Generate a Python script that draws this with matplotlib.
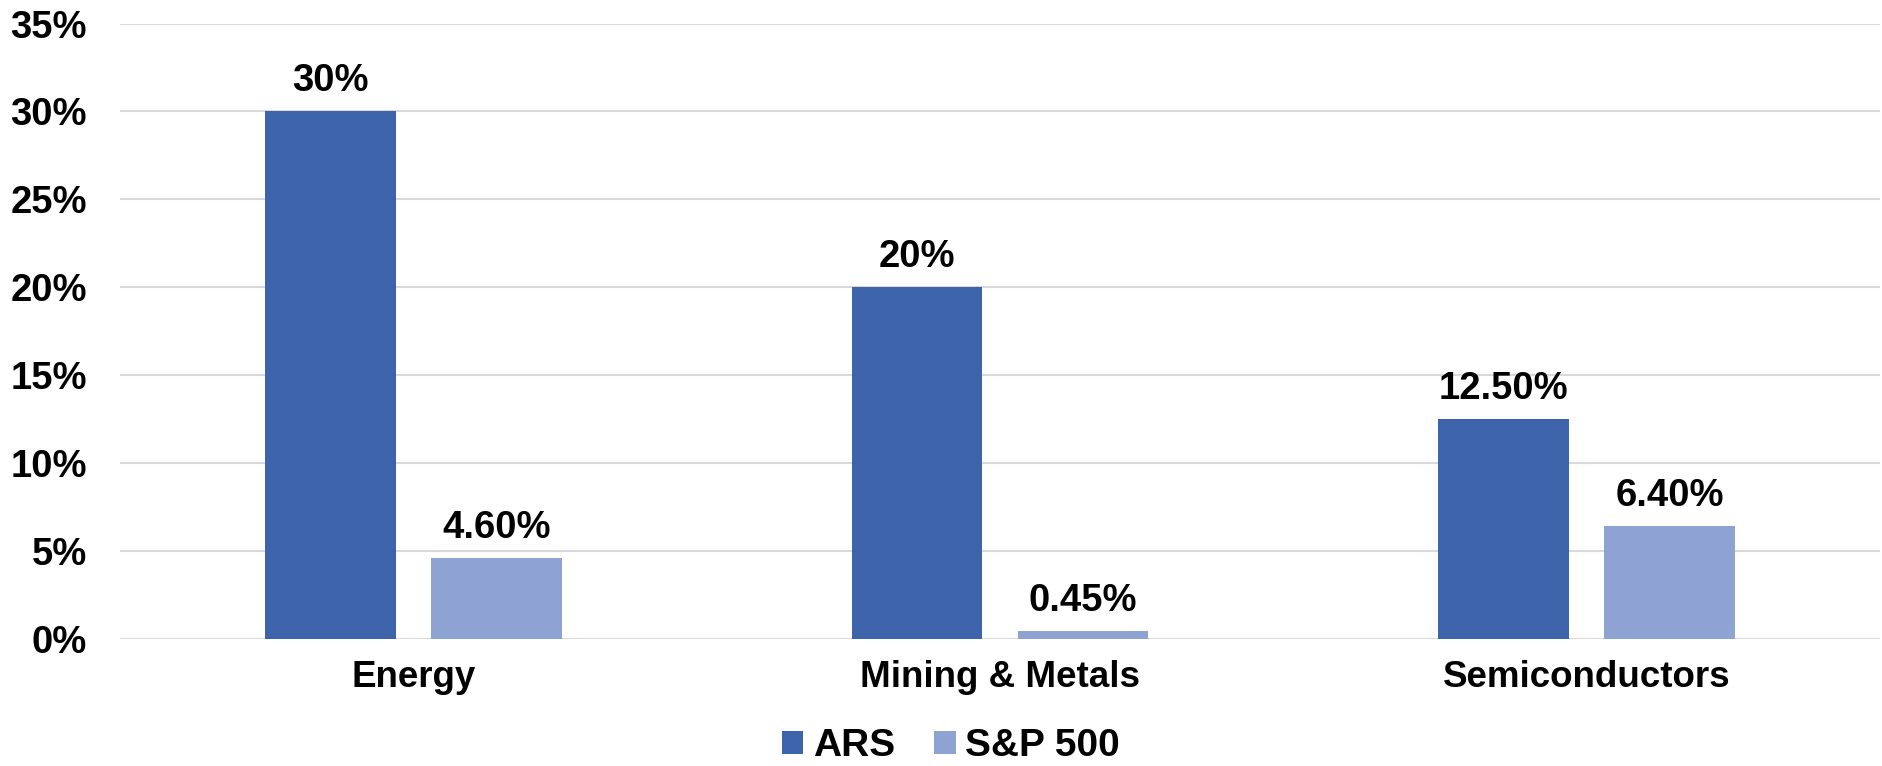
import matplotlib.pyplot as plt
import numpy as np

categories = ['Energy', 'Mining & Metals', 'Semiconductors']
ars = [30, 20, 12.5]
sp500 = [4.6, 0.45, 6.4]
ars_labels = ['30%', '20%', '12.50%']
sp500_labels = ['4.60%', '0.45%', '6.40%']
yticks = [0, 5, 10, 15, 20, 25, 30, 35]

plt.rcParams['font.family'] = ['Liberation Sans', 'DejaVu Sans']
plt.rcParams['font.weight'] = 'bold'

fig = plt.figure(figsize=(18.83, 7.66), dpi=100)
ax = fig.add_axes([120 / 1883, 127 / 766, 1760 / 1883, 615.5 / 766])

x = np.arange(len(categories))
w = 0.223
off = 0.1415
b1 = ax.bar(x - off, ars, w, color='#3D64AB', label='ARS', zorder=3)
b2 = ax.bar(x + off, sp500, w, color='#8FA3D3', label='S&P 500', zorder=3)

for bars, labs in [(b1, ars_labels), (b2, sp500_labels)]:
    for rect, lab in zip(bars, labs):
        ax.annotate(lab, (rect.get_x() + rect.get_width() / 2, rect.get_height()),
                    xytext=(0, 9), textcoords='offset points',
                    ha='center', va='bottom', fontsize=27.5, fontweight='bold')

ax.set_xlim(-0.5, 2.5)
ax.set_ylim(0, 35)
ax.set_yticks(yticks)
ax.set_yticklabels([f'{t}%' for t in yticks], fontsize=27.5, fontweight='bold')
ax.set_xticks(x)
ax.set_xticklabels(categories, fontsize=26.5, fontweight='bold')
ax.tick_params(axis='y', length=0, pad=24)
ax.tick_params(axis='x', length=0, pad=15)
ax.grid(axis='y', color='#D9D9D9', linewidth=1.5, zorder=0)
for s in ax.spines.values():
    s.set_visible(False)

fig.legend(loc='center', bbox_to_anchor=(951 / 1883, 20 / 766), ncol=2, frameon=False,
           prop={'size': 28, 'weight': 'bold'}, handlelength=0.55, handleheight=0.55,
           handletextpad=0.25, columnspacing=1.0)

fig.savefig('out.png', dpi=100)
